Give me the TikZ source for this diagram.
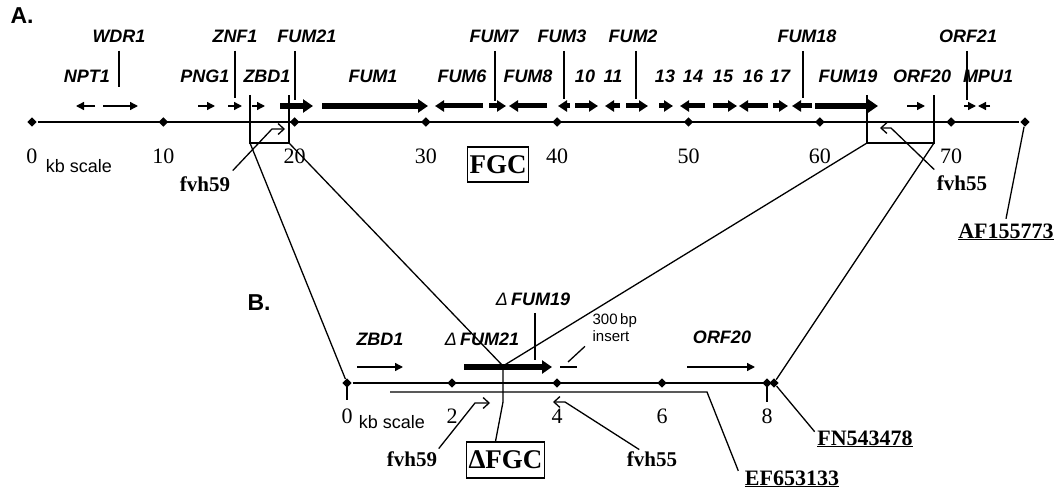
\documentclass[tikz,border=0pt]{standalone}
\usepackage{fontspec}
\setmainfont{Liberation Serif}
\setsansfont{Liberation Sans}
\usetikzlibrary{arrows.meta,shapes.geometric}

\begin{document}
\begin{tikzpicture}[x=1pt,y=-1pt,line width=1.3pt,
    kbmark/.style={diamond,fill,inner sep=0pt,minimum size=10pt},
    gname/.style={font=\sffamily\bfseries\itshape\fontsize{18}{20}\selectfont,anchor=base,inner sep=0pt},
    kbnum/.style={font=\fontsize{22}{24}\selectfont,anchor=base,inner sep=0pt},
    kbtext/.style={font=\sffamily\fontsize{18}{20}\selectfont,anchor=base,inner sep=0pt},
    primer/.style={font=\bfseries\fontsize{21}{23}\selectfont,anchor=base,inner sep=0pt},
    acc/.style={font=\bfseries\fontsize{22}{24}\selectfont,anchor=base,inner sep=0pt},
    panel/.style={font=\sffamily\bfseries\fontsize{23}{25}\selectfont,inner sep=0pt},
    cluster/.style={draw,font=\bfseries\fontsize{27}{29}\selectfont,inner sep=2pt},
    gthin/.style={line width=1.4pt,-{Triangle[length=8pt,width=8pt]}},
    gmed/.style={line width=5pt,-{Triangle[length=9pt,width=11pt]}},
    gthick/.style={line width=6.5pt,-{Triangle[length=10pt,width=13pt]}},
    pr/.style={-{Straight Barb[length=6pt,width=11pt]}}
]
    \useasboundingbox (0,0) rectangle (1058,492);

    % A. whole cluster
    \node[panel] (pa) at (22,16) {A.};
    \foreach \k in {0,...,7}
        \node[kbmark] (a\k) at ({32+131.3*\k},122) {};
    \node[kbmark] (aend) at (1025,122) {};
    \draw (a0) -- (aend);
    \foreach \k in {0,...,7} {
        \pgfmathtruncatemacro\lab{10*\k}
        \node[kbnum] (na\k) at (a\k |- 0,164) {\lab};
    }
    \node[kbtext] (kba) at (79,172) {kb scale};

    \foreach \s/\e in {95/76,103/138,198/215,228/242,252/265,907/925,964/976,990/978}
        \draw[gthin] (\s,106) -- (\e,106);
    \foreach \s/\e in {483/435,489/506,547/509,570/558,575/598,620/605,626/648,
                       659/673,705/680,713/737,768/739,773/788,812/792}
        \draw[gmed] (\s,106) -- (\e,106);
    \foreach \s/\e in {280/313,322/428,815/878}
        \draw[gthick] (\s,106) -- (\e,106);

    \foreach \t/\x in {NPT1/87,PNG1/205,ZBD1/267,FUM1/373,FUM6/462,FUM8/528,
                       10/585,11/613,13/665,14/693,15/723,16/753,17/780,
                       FUM19/848,ORF20/922,MPU1/988}
        \node[gname] (g\t) at (\x,83) {\t};
    \foreach \t/\x/\l/\e in {WDR1/119/119/87,ZNF1/235/235/98,FUM21/307/295/100,
                             FUM7/494/495/101,FUM3/562/564/99,FUM2/633/636/99,
                             FUM18/807/803/98,ORF21/968/967/100} {
        \node[gname] (g\t) at (\x,43) {\t};
        \draw[shorten <=7pt] (g\t.south -| \l,0) -- (\l,\e);
    }

    % deleted region
    \coordinate (bl1) at (250,143);
    \coordinate (br1) at (289,143);
    \coordinate (bl2) at (867,143);
    \coordinate (br2) at (934,143);
    \draw (250,95) -- (bl1) -- (br1) -- (289,95);
    \draw (867,95) -- (bl2) -- (br2) -- (934,95);

    \node[primer] (p59a) at (205,191) {fvh59};
    \coordinate (h59a) at (285,129);
    \draw[pr] ([xshift=2pt,yshift=5pt]p59a.north east) -- (272,129) -- (h59a);
    \node[primer] (p55a) at (962,190) {fvh55};
    \coordinate (h55a) at (880,128);
    \draw[pr] ([xshift=-2pt,yshift=5pt]p55a.north west) -- (891,128) -- (h55a);

    \node[acc] (afa) at (1006,238) {\underline{AF155773}};
    \draw ([yshift=4pt]afa.north) -- (aend);
    \node[cluster,minimum width=61pt,minimum height=35pt] (fgc) at (498,164.5) {FGC};

    % B. deletion construct
    \node[panel] (pb) at (259,303) {B.};
    \foreach \k in {0,...,4}
        \node[kbmark] (b\k) at ({347+105*\k},383) {};
    \node[kbmark] (bend) at (774,383) {};
    \draw (b0) -- (bend);
    \draw (b0.center) -- ++(0,17);
    \draw (b4.center) -- ++(0,19);
    \foreach \k in {0,...,4} {
        \pgfmathtruncatemacro\lab{2*\k}
        \node[kbnum] (nb\k) at (b\k |- 0,423) {\lab};
    }
    \node[kbtext] (kbb) at (392,428) {kb scale};

    \coordinate (jn) at (503,366);
    \draw (bl1) -- (b0);
    \draw (br1) -- (jn);
    \draw (bl2) -- (jn);
    \draw (br2) -- (bend);

    \draw[gthin] (357,367) -- (403,367);
    \draw[gthick] (464,367) -- (552,367);
    \draw[gthin] (687,367) -- (755,367);
    \draw[line width=1.4pt] (560,367) -- (577,367);

    \node[gname] (gzbd) at (380,345) {ZBD1};
    \node[gname] (gdf21) at (482,345) {{\mdseries Δ}\,FUM21};
    \node[gname] (gorf) at (722,343) {ORF20};
    \node[gname] (gdf19) at (533,305) {{\mdseries Δ}\,FUM19};
    \draw[shorten <=7pt] (gdf19.south -| 535,0) -- (535,360);
    \node[font=\sffamily\fontsize{15}{17}\selectfont,align=left,anchor=north west,inner sep=0pt]
        (ins) at (592,313) {300\,bp\\insert};
    \draw ([xshift=-7pt,yshift=-4pt]ins.south west) -- (568,362);

    \node[cluster,minimum width=77pt,minimum height=36pt] (dfgc) at (505.5,460) {ΔFGC};
    \draw (jn) -- (503,402) -- ([xshift=-10pt]dfgc.north);

    \node[primer] (p59b) at (412,466) {fvh59};
    \coordinate (h59b) at (490,403);
    \draw[pr] ([xshift=1pt,yshift=2pt]p59b.north east) -- (475,403) -- (h59b);
    \node[primer] (p55b) at (652,466) {fvh55};
    \coordinate (h55b) at (553,402);
    \draw[pr] ([xshift=13pt,yshift=1pt]p55b.north west) -- (565,402) -- (h55b);

    \node[acc] (fnb) at (865,445) {\underline{FN543478}};
    \draw (bend) -- ([xshift=-2pt,yshift=-2pt]fnb.north west);
    \node[acc] (efb) at (792,485) {\underline{EF653133}};
    \coordinate (efs) at (390,392);
    \draw ([xshift=-6pt,yshift=-1pt]efb.north west) -- (707,392) -- (efs);
\end{tikzpicture}
\end{document}
